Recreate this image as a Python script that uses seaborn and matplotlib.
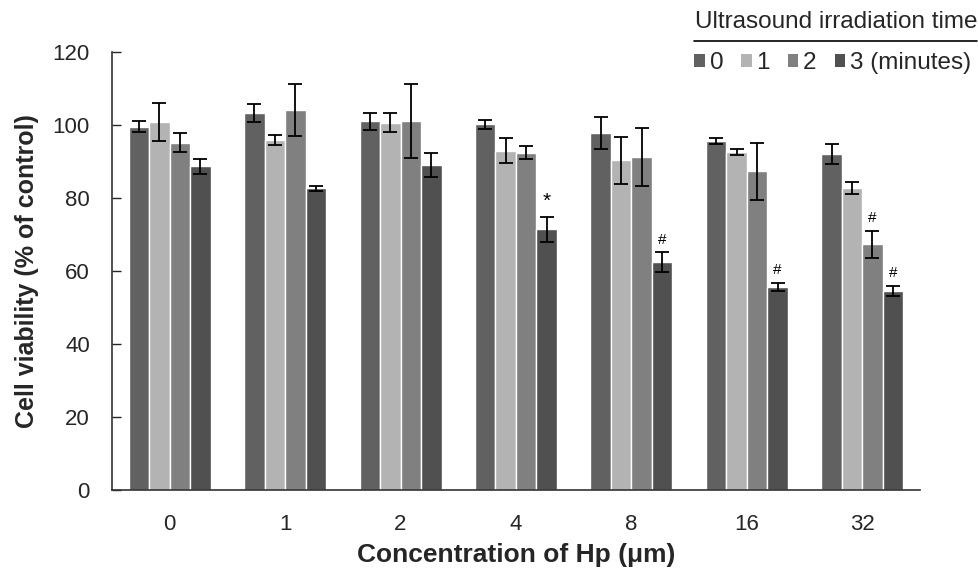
import numpy as np
import pandas as pd
import seaborn as sns
import matplotlib
matplotlib.use("Agg")
import matplotlib.pyplot as plt
from matplotlib.lines import Line2D
from matplotlib.patches import Patch

concentrations = ["0", "1", "2", "4", "8", "16", "32"]
times = ["0", "1", "2", "3"]
time_labels = ["0", "1", "2", "3 (minutes)"]
viability_0 = [99.5, 103.2, 101.0, 100.2, 97.8, 95.6, 92.1]
viability_1 = [100.8, 95.8, 100.6, 93.0, 90.3, 92.6, 82.7]
viability_2 = [95.2, 104.1, 101.1, 92.4, 91.3, 87.3, 67.3]
viability_3 = [88.7, 82.7, 89.0, 71.4, 62.4, 55.7, 54.5]
err_0 = [1.5, 2.5, 2.3, 1.3, 4.4, 0.8, 2.8]
err_1 = [5.3, 1.4, 2.6, 3.5, 6.4, 0.9, 1.6]
err_2 = [2.5, 7.1, 10.1, 1.8, 8.0, 7.9, 3.7]
err_3 = [2.0, 0.7, 3.2, 3.5, 2.7, 1.1, 1.4]
# (concentration index, time index, marker)
annotations = [(3, 3, "*"), (4, 3, "#"), (5, 3, "#"), (6, 2, "#"), (6, 3, "#")]

colors = ["#616161", "#b3b3b3", "#808080", "#505050"]

vals = [viability_0, viability_1, viability_2, viability_3]
errs = [err_0, err_1, err_2, err_3]
rows = []
for ti, t in enumerate(times):
    for ci, c in enumerate(concentrations):
        rows.append({"conc": c, "time": t, "viab": vals[ti][ci], "err": errs[ti][ci]})
df = pd.DataFrame(rows)

sns.set_style("white")
plt.rcParams["font.family"] = ["Liberation Sans", "DejaVu Sans"]

fig = plt.figure(figsize=(9.79, 5.76), dpi=100)
ax = fig.add_axes([0.1144, 0.1493, 0.9397 - 0.1144, 0.9097 - 0.1493])

sns.barplot(data=df, x="conc", y="viab", hue="time", order=concentrations,
            hue_order=times, palette=colors, width=0.71, errorbar=None,
            saturation=1, ax=ax, legend=False)

nconc = len(concentrations)
for ti in range(len(times)):
    cont = ax.containers[ti]
    for ci, bar in enumerate(cont):
        xc = bar.get_x() + bar.get_width() / 2
        h = bar.get_height()
        e = errs[ti][ci]
        ax.errorbar(xc, h, yerr=e, fmt="none", ecolor="black", elinewidth=1.3,
                    capsize=5.2, capthick=1.3, zorder=5)
for ci, ti, mark in annotations:
    bar = ax.containers[ti][ci]
    xc = bar.get_x() + bar.get_width() / 2
    top = bar.get_height() + errs[ti][ci]
    if mark == "*":
        ax.text(xc, top + 1.6, mark, ha="center", va="bottom", fontsize=15, color="black")
    else:
        ax.text(xc, top + 1.6, mark, ha="center", va="bottom", fontsize=11, color="black")

ax.set_ylim(0, 120)
ax.set_xlim(-0.5, nconc - 0.5)
ax.set_yticks([0, 20, 40, 60, 80, 100, 120])
ax.tick_params(axis="y", direction="in", length=6.5, width=1.0, labelsize=16, pad=16, left=True)
ax.tick_params(axis="x", length=0, labelsize=16, pad=17)
for s in ["top", "right"]:
    ax.spines[s].set_visible(False)
for s in ["left", "bottom"]:
    ax.spines[s].set_color("#333333")
    ax.spines[s].set_linewidth(1.2)
ax.set_xlabel("Concentration of Hp (\u03bcm)", fontsize=19, fontweight="bold", labelpad=6)
ax.set_ylabel("Cell viability (% of control)", fontsize=18, fontweight="bold", labelpad=10)

# legend
fig.text(0.9985, 1 - 22 / 576, "Ultrasound irradiation time", ha="right", va="center", fontsize=17.5)
fig.add_artist(Line2D([694 / 979, 977 / 979], [1 - 41 / 576, 1 - 41 / 576], color="black", lw=1.2))
handles = [Patch(facecolor=c, edgecolor="none") for c in colors]
fig.legend(handles, time_labels, ncol=4, frameon=False, loc="center right",
           bbox_to_anchor=(0.992, 1 - 63 / 576), fontsize=17.5, handlelength=0.42,
           handleheight=0.42, handletextpad=0.2, columnspacing=0.75, borderaxespad=0,
           borderpad=0)

fig.savefig("out.png", dpi=100)
